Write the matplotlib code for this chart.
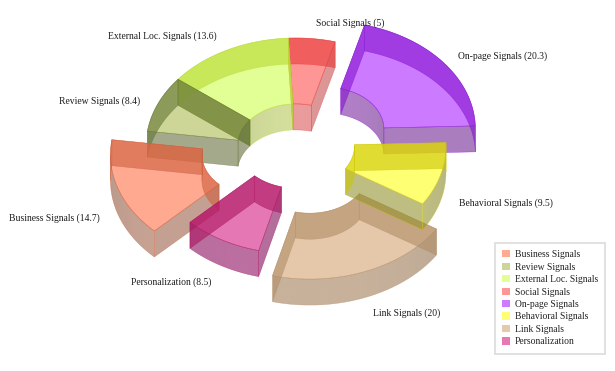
import numpy as np
import matplotlib
matplotlib.use('Agg')
import matplotlib.pyplot as plt
from matplotlib.patches import Patch

names = ['Business Signals', 'Review Signals', 'External Loc. Signals', 'Social Signals',
         'On-page Signals', 'Behavioral Signals', 'Link Signals', 'Personalization']
values = [14.7, 8.4, 13.6, 5, 20.3, 9.5, 20, 8.5]
explode = [0.25, 0, 0, 0, 0.25, 0, 0.25, 0]

# colours as they look on white: top face, wall seen through the face, wall on white
face_rgb = [(255, 170, 145), (205, 214, 150), (226, 255, 150), (255, 150, 150),
            (204, 122, 255), (255, 255, 115), (230, 200, 170), (230, 120, 180)]
band_rgb = [(225, 125, 95), (140, 155, 90), (200, 232, 90), (240, 95, 95),
            (160, 60, 225), (225, 220, 50), (198, 165, 130), (195, 60, 130)]
wall_rgb = [(195, 160, 145), (165, 170, 140), (200, 210, 150), (220, 150, 150),
            (170, 125, 190), (190, 190, 130), (190, 170, 150), (180, 110, 155)]

# label anchors (left x, centre y) in pixels
label_x = [9, 59, 108, 316, 458, 459, 373, 131]
label_y = [218, 101, 36, 23, 56, 203, 313, 282]

cx, cy = 296, 146
ra, rb = 150, 108
hole = 0.39
depth = 26
start = 135.0
alpha = 0.6
shade_amp = 0.12
draw_order = [3, 4, 2, 1, 0, 7, 6, 5]
font = 'Liberation Serif'


# цвет с учётом прозрачности поверх заданного фона
def solid(target, under):
    t = np.array(target, float)
    u = np.array(under, float)
    return tuple(np.clip((t - (1 - alpha) * u) / alpha, 0, 255) / 255)


def arc(x0, y0, k, t1, t2):
    t = np.radians(np.linspace(t1, t2, max(int(abs(t2 - t1)) * 2, 2)))
    return x0 + k * ra * np.cos(t), y0 + k * rb * np.sin(t)


def strip(ax, x0, y0, k, t1, t2, color, edge, z):
    x, y = arc(x0, y0, k, t1, t2)
    ax.fill(np.r_[x, x[::-1]], np.r_[y, y[::-1] + depth], fc=color, ec=edge,
            lw=0.35, alpha=alpha, zorder=z)


# стенка на белом фоне с лёгким градиентом по горизонтали
def shaded_strip(ax, x0, y0, k, t1, t2, target, edge, z):
    x, y = arc(x0, y0, k, t1, t2)
    t = np.radians(np.linspace(t1, t2, len(x)))
    shade = 1 + shade_amp * (2 * np.abs(np.sin(t)) - 1)
    if x[0] > x[-1]:
        xs, sh = x[::-1], shade[::-1]
    else:
        xs, sh = x, shade
    grid = np.linspace(x.min(), x.max(), 64)
    s = np.interp(grid, xs, sh)
    img = np.ones((1, 64, 4))
    base = np.array(solid(target, (255, 255, 255)))
    img[0, :, :3] = np.clip(base[None, :] * s[:, None], 0, 1)
    img[0, :, 3] = alpha
    poly = ax.fill(np.r_[x, x[::-1]], np.r_[y, y[::-1] + depth], fc='none', ec=edge,
                   lw=0.35, alpha=alpha, zorder=z + 0.01)[0]
    im = ax.imshow(img, extent=(x.min(), x.max(), y.max() + depth, y.min()), aspect='auto',
                   interpolation='bilinear', zorder=z)
    im.set_clip_path(poly)


def cut(ax, x0, y0, t, color, edge, z):
    c, s = np.cos(np.radians(t)), np.sin(np.radians(t))
    xo, yo = x0 + ra * c, y0 + rb * s
    xi, yi = x0 + hole * ra * c, y0 + hole * rb * s
    ax.fill([xi, xo, xo, xi], [yi, yo, yo + depth, yi + depth], fc=color, ec=edge,
            lw=0.35, alpha=alpha, zorder=z)


def split_angles(t1, t2):
    # разбиваем дугу там, где стенка переходит с задней стороны на переднюю
    marks = [a for a in range(-180, 721, 180) if t1 < a < t2]
    return [t1] + marks + [t2]


def draw_slice(ax, i, t1, t2, z):
    mid = np.radians((t1 + t2) / 2)
    x0 = cx + explode[i] * ra * np.cos(mid)
    y0 = cy + explode[i] * rb * np.sin(mid)
    face = solid(face_rgb[i], (255, 255, 255))
    band = solid(band_rgb[i], face_rgb[i])
    wall = solid(wall_rgb[i], (255, 255, 255))
    edge = band

    edges = split_angles(t1, t2)
    # сначала стенки на белом, потом грань, потом стенки поверх грани
    later = []
    for a, b in zip(edges[:-1], edges[1:]):
        back = np.sin(np.radians((a + b) / 2)) < 0
        if back:
            later.append((1, a, b))
            shaded_strip(ax, x0, y0, hole, a, b, wall_rgb[i], edge, z)
        else:
            later.append((hole, a, b))
            shaded_strip(ax, x0, y0, 1, a, b, wall_rgb[i], edge, z)
    if np.cos(np.radians(t1)) > 0:
        later_cut = [t1]
    else:
        later_cut = []
        cut(ax, x0, y0, t1, wall, edge, z)
    if np.cos(np.radians(t2)) < 0:
        later_cut.append(t2)
    else:
        cut(ax, x0, y0, t2, wall, edge, z)

    xo, yo = arc(x0, y0, 1, t1, t2)
    xi, yi = arc(x0, y0, hole, t1, t2)
    ax.fill(np.r_[xo, xi[::-1]], np.r_[yo, yi[::-1]], fc=face, ec=edge, lw=0.4,
            alpha=alpha, zorder=z + 0.1)

    for k, a, b in later:
        strip(ax, x0, y0, k, a, b, band, edge, z + 0.2)
    for t in later_cut:
        cut(ax, x0, y0, t, band, edge, z + 0.2)


fig = plt.figure(figsize=(6.15, 3.71), dpi=100)
ax = fig.add_axes([0, 0, 1, 1])

total = sum(values)
angles = start + np.r_[0, np.cumsum(values)] * 360 / total
for z, i in enumerate(draw_order):
    draw_slice(ax, i, angles[i], angles[i + 1], z + 1)

ax.set_xlim(0, 615)
ax.set_ylim(371, 0)
ax.axis('off')

for i in range(len(names)):
    ax.text(label_x[i], label_y[i], '{} ({:g})'.format(names[i], values[i]), family=font,
            fontsize=6.95, color='#1c1c1c', va='center', ha='left', zorder=20)

handles = [Patch(fc=np.array(c) / 255, ec='none') for c in face_rgb]
leg = ax.legend(handles, names, loc='upper left', bbox_to_anchor=(495, 243),
                bbox_transform=ax.transData, prop={'family': font, 'size': 6.9},
                handlelength=0.78, handleheight=0.78, handletextpad=0.55,
                labelspacing=0.36, borderpad=0.75, borderaxespad=0, fancybox=False,
                framealpha=1, edgecolor='#dcdcdc', labelcolor='#222222')
leg.get_frame().set_linewidth(1.2)
leg.set_zorder(30)

fig.savefig('out.png', dpi=100)
